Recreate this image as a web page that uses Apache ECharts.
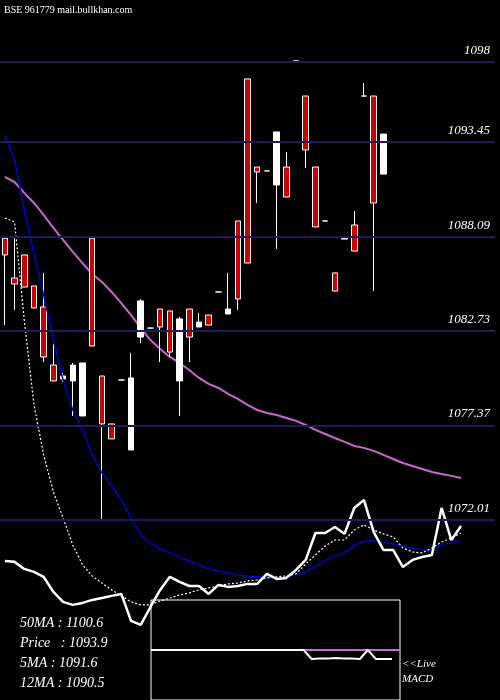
<!DOCTYPE html>
<html>
<head>
<meta charset="UTF-8">
<title>961779</title>
<script src="https://cdn.jsdelivr.net/npm/echarts@6/dist/echarts.min.js"></script>
<style>
  html, body { margin: 0; padding: 0; background: #000; }
  #chart { width: 500px; height: 700px; }
</style>
</head>
<body>
<div id="chart"></div>
<script>
// [open, close, low, high]
var candles = [
  [1088.0, 1087.05, 1083.07, 1088.0],
  [1085.74, 1085.40, 1083.93, 1088.0],
  [1087.05, 1085.23, 1085.23, 1087.05],
  [1085.29, 1084.04, 1084.04, 1085.29],
  [1084.10, 1081.26, 1080.97, 1086.03],
  [1080.80, 1079.90, 1079.90, 1082.0],
  [1080.01, 1080.18, 1079.85, 1080.35],
  [1079.90, 1080.80, 1077.91, 1080.92],
  [1077.91, 1080.92, 1077.91, 1080.92],
  [1088.0, 1081.88, 1081.88, 1088.0],
  [1080.18, 1077.46, 1071.95, 1080.18],
  [1077.46, 1076.61, 1076.61, 1077.46],
  [1079.95, 1079.95, 1079.95, 1079.95],
  [1075.98, 1080.07, 1075.98, 1081.49],
  [1082.39, 1084.44, 1082.05, 1084.55],
  [1082.90, 1082.90, 1082.90, 1082.90],
  [1083.98, 1082.96, 1080.97, 1083.98],
  [1083.87, 1081.54, 1081.26, 1083.87],
  [1079.90, 1083.42, 1077.91, 1083.53],
  [1083.98, 1082.39, 1080.97, 1083.98],
  [1082.96, 1083.24, 1082.96, 1083.76],
  [1083.64, 1083.07, 1083.07, 1083.64],
  [1084.95, 1084.95, 1084.95, 1084.95],
  [1083.70, 1083.98, 1083.70, 1086.03],
  [1088.98, 1084.55, 1083.93, 1088.98],
  [1097.04, 1086.59, 1086.59, 1097.04],
  [1092.04, 1091.76, 1090.0, 1092.04],
  [1091.82, 1091.82, 1091.82, 1091.82],
  [1091.02, 1094.03, 1087.39, 1094.03],
  [1092.04, 1090.34, 1090.34, 1092.89],
  [1098.06, 1098.06, 1098.06, 1098.06],
  [1096.07, 1093.01, 1091.98, 1096.07],
  [1092.04, 1088.64, 1088.64, 1092.04],
  [1088.98, 1088.98, 1088.98, 1088.98],
  [1086.03, 1085.0, 1085.0, 1086.03],
  [1088.0, 1087.95, 1087.95, 1088.0],
  [1088.75, 1087.27, 1087.27, 1089.54],
  [1096.07, 1096.07, 1096.07, 1096.81],
  [1096.07, 1090.0, 1085.0, 1096.07],
  [1091.64, 1093.91, 1091.64, 1093.91]
];

var maBlue = [1093.86, 1092.44, 1089.60, 1087.05, 1084.78, 1082.22, 1079.95, 1078.25, 1077.12, 1075.70,
  1074.68, 1073.94, 1073.14, 1072.12, 1071.16, 1070.70, 1070.36, 1070.14, 1069.91, 1069.68,
  1069.46, 1069.23, 1069.12, 1069.00, 1068.89, 1068.83, 1068.78, 1068.78, 1068.72, 1068.78,
  1068.89, 1069.06, 1069.40, 1069.68, 1069.97, 1070.14, 1070.59, 1070.82, 1070.82, 1070.76,
  1070.65, 1070.53, 1070.42, 1070.31, 1070.25, 1070.65, 1070.70, 1070.82];

var maPink = [1091.48, 1091.19, 1090.57, 1090.00, 1089.32, 1088.58, 1087.90, 1087.22, 1086.59, 1085.97,
  1085.52, 1084.95, 1084.32, 1083.64, 1082.91, 1082.22, 1081.71, 1081.26, 1080.92, 1080.52,
  1080.07, 1079.73, 1079.50, 1079.16, 1078.88, 1078.54, 1078.25, 1078.08, 1077.97, 1077.80,
  1077.63, 1077.40, 1077.12, 1076.89, 1076.66, 1076.44, 1076.21, 1076.10, 1075.93, 1075.70,
  1075.47, 1075.24, 1075.07, 1074.90, 1074.73, 1074.62, 1074.51, 1074.39];

var lowWhite = [1069.68, 1069.63, 1069.23, 1069.06, 1068.78, 1067.92, 1067.36, 1067.19, 1067.30, 1067.47,
  1067.58, 1067.70, 1067.81, 1066.28, 1066.05, 1067.07, 1068.04, 1068.78, 1068.49, 1068.26,
  1068.26, 1067.81, 1068.32, 1068.21, 1068.26, 1068.38, 1068.38, 1068.95, 1068.66, 1068.72,
  1069.17, 1069.74, 1071.27, 1071.27, 1071.61, 1071.22, 1072.69, 1073.14, 1071.33, 1070.31,
  1070.31, 1069.34, 1069.74, 1069.91, 1070.02, 1072.69, 1070.87, 1071.67];

var lowDotted = [1089.15, 1088.92, 1083.36, 1078.54, 1075.70, 1073.60, 1072.12, 1070.59, 1069.46, 1068.83,
  1068.43, 1068.04, 1067.70, 1067.36, 1067.19, 1067.19, 1067.41, 1067.58, 1067.75, 1067.87,
  1068.04, 1068.15, 1068.26, 1068.38, 1068.43, 1068.55, 1068.60, 1068.72, 1068.78, 1068.83,
  1068.95, 1069.51, 1070.02, 1070.53, 1070.87, 1070.87, 1071.44, 1071.73, 1071.44, 1071.22,
  1071.05, 1070.42, 1070.19, 1070.14, 1070.42, 1070.76, 1070.99, 1071.27];

var levels = [1098, 1093.45, 1088.09, 1082.73, 1077.37, 1072.01];

var macdLine = [0, 0, 0, 0, 0, 0, 0, 0, 0, 0, 0, 0, 0, 0, 0, 0, 0, 0, 0, 0,
  -0.18, -0.17, -0.17, -0.16, -0.17, -0.17, -0.18, 0, -0.18, -0.18, -0.18];
var signalLine = [null, null, null, null, null, null, null, null, null, null, null, null, null, null, null, null, null, null, null, 0,
  0, 0, 0, 0, 0, 0, 0, 0, 0, 0, 0, 0];

var cats = [];
for (var i = 0; i < 51; i++) cats.push(i);
var macdCats = [];
for (var j = 0; j < 32; j++) macdCats.push(j);

var serif = '"Liberation Serif", "DejaVu Serif", serif';

var myChart = echarts.init(document.getElementById('chart'));
myChart.setOption({
  backgroundColor: '#000',
  animation: false,
  grid: [
    { left: -2, width: 497, top: 0, height: 700 },
    { left: 151, width: 249, top: 600, height: 100, show: true, borderColor: '#fff', borderWidth: 1, backgroundColor: '#000' }
  ],
  xAxis: [
    { type: 'category', data: cats, gridIndex: 0, boundaryGap: true, show: false },
    { type: 'category', data: macdCats, gridIndex: 1, boundaryGap: false, show: false }
  ],
  yAxis: [
    { type: 'value', gridIndex: 0, min: 1061.79, max: 1101.52, show: false },
    { type: 'value', gridIndex: 1, min: -1, max: 1, show: false }
  ],
  series: [
    {
      type: 'candlestick',
      data: candles,
      barWidth: 6,
      z: 3,
      itemStyle: { color: '#ffffff', color0: '#cc0000', borderColor: '#ffffff', borderColor0: '#ffffff', borderWidth: 1 },
      markLine: {
        symbol: 'none',
        silent: true,
        lineStyle: { color: '#1c1c5c', width: 2, type: 'solid' },
        label: {
          position: 'insideEndTop', color: '#fff', fontFamily: serif, fontStyle: 'italic', fontSize: 13,
          formatter: function (p) { return p.value; }
        },
        data: levels.map(function (v) { return { yAxis: v }; })
      }
    },
    { type: 'line', data: maPink, symbol: 'none', lineStyle: { color: '#cc66cc', width: 2 }, z: 2 },
    { type: 'line', data: maBlue, symbol: 'none', lineStyle: { color: '#0000cc', width: 1.5 }, z: 4 },
    { type: 'line', data: lowDotted, symbol: 'none', lineStyle: { color: '#fff', width: 1.2, type: [2, 2] }, z: 4 },
    { type: 'line', data: lowWhite, symbol: 'none', lineStyle: { color: '#fff', width: 2.5 }, z: 4 },
    { type: 'line', xAxisIndex: 1, yAxisIndex: 1, data: signalLine, symbol: 'none', lineStyle: { color: '#cc66cc', width: 2 }, z: 6 },
    { type: 'line', xAxisIndex: 1, yAxisIndex: 1, data: macdLine, symbol: 'none', lineStyle: { color: '#fff', width: 2 }, z: 7 }
  ],
  graphic: [
    { type: 'text', left: 4, top: 5, style: { text: 'BSE 961779 mail.bullkhan.com', fill: '#fff', font: '10px ' + serif } },
    { type: 'text', left: 20, top: 616, style: { text: '50MA : 1100.6', fill: '#fff', font: 'italic 14px ' + serif } },
    { type: 'text', left: 20, top: 636, style: { text: 'Price   : 1093.9', fill: '#fff', font: 'italic 14px ' + serif } },
    { type: 'text', left: 20, top: 656, style: { text: '5MA : 1091.6', fill: '#fff', font: 'italic 14px ' + serif } },
    { type: 'text', left: 20, top: 676, style: { text: '12MA : 1090.5', fill: '#fff', font: 'italic 14px ' + serif } },
    { type: 'text', left: 402, top: 659, style: { text: '<<Live', fill: '#fff', font: 'italic 11px ' + serif } },
    { type: 'text', left: 402, top: 674, style: { text: 'MACD', fill: '#fff', font: 'italic 11px ' + serif } }
  ]
});
</script>
</body>
</html>
